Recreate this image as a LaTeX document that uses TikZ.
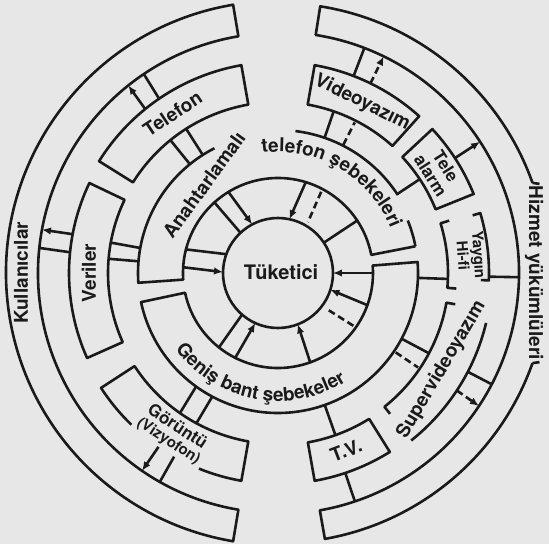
\documentclass[tikz,border=0pt]{standalone}
\usepackage{fontspec}
\setmainfont{TeX Gyre Heros}
\usetikzlibrary{arrows.meta,decorations.text}
\definecolor{bg}{RGB}{231,231,231}
\definecolor{ink}{RGB}{26,26,26}
% radial connector: [style]{angle1}{r1}{angle2}{r2}
\newcommand\rl[5][ln]{\path (#2:#3) coordinate (rlA) (#4:#5) coordinate (rlB); \draw[#1] (rlA) -- (rlB);}
% closed annular sector: {r1}{r2}{a1}{a2}
\newcommand\sect[4]{\draw[ln] (#3:#1) arc[start angle=#3,end angle=#4,radius=#1] -- (#4:#2) arc[start angle=#4,end angle=#3,radius=#2] -- cycle;}
\begin{document}
\begin{tikzpicture}[x=1pt,y=1pt,
  ln/.style={line width=2.6pt,draw=ink,line join=round},
  arr/.style={ln,-{Latex[length=9pt,width=7.5pt]}},
  dsh/.style={ln,dash pattern=on 7pt off 4pt},
  darr/.style={dsh,-{Latex[length=9pt,width=7.5pt]}},
  lbl/.style={font=\fontsize{19}{20}\selectfont\bfseries,text=ink,inner sep=0pt,align=center},
  mlbl/.style={lbl,font=\fontsize{17}{18}\selectfont\bfseries},
  slbl/.style={lbl,font=\fontsize{15}{16}\selectfont\bfseries},
]
\fill[bg] (-278,-271) rectangle (271,273);
\useasboundingbox (-278,-271) rectangle (271,273);

% ---------- centre ----------
\draw[ln] (0,0) circle[radius=55];
\node[lbl,font=\fontsize{20}{21}\selectfont\bfseries] (tuk) at (3,1) {Tüketici};

% ---------- inner ring (r 55..95) ----------
\rl{132}{96}{133}{55}
\rl[arr]{121.5}{96}{118}{55}
\rl[arr]{73}{95}{78}{55}
\rl[dsh]{62}{92}{59.5}{59}
\rl{33.5}{96}{33.5}{55}
\rl{165.7}{96}{160}{55}
\rl[arr]{176.5}{96}{179}{55}
\rl[arr]{0}{96}{0}{55}
\rl[arr]{-19.8}{96}{-17.8}{55}
\rl[dsh]{-35}{92}{-36.5}{60}
\rl[arr]{-70.2}{96}{-68.9}{55}
\rl[arr]{243.2}{96}{245.6}{55}
\rl{231.6}{96}{229.2}{55}

% ---------- network bands (r 95..140) ----------
% upper: Anahtarlamali telefon sebekeleri
\draw[ln] (11:140) -- (11:95) arc[start angle=11,end angle=184,radius=95] -- (184:140) arc[start angle=184,end angle=117,radius=140];
\draw[ln] (11:140) arc[start angle=11,end angle=22,radius=140];
\draw[ln] (33:143) arc[start angle=33,end angle=83,radius=143];
% lower: Genis bant sebekeler
\draw[ln] (192:95) arc[start angle=192,end angle=364.5,radius=95] -- (364.5:140) arc[start angle=364.5,end angle=192,radius=140] -- cycle;

\node[lbl,rotate=54] (anah) at (-74,88) {Anahtarlamalı};
\path[decorate,decoration={text along path,text align=center,
  text={|\fontsize{19}{20}\selectfont\bfseries\color{ink}|telefon şebekeleri}}]
  (98:121) arc[start angle=98,end angle=21,radius=121];
\path[decorate,decoration={text along path,text align=center,
  text={|\fontsize{19}{20}\selectfont\bfseries\color{ink}|Geniş bant şebekeler}}]
  (210:128) arc[start angle=210,end angle=309,radius=128];

% ---------- service boxes (r 171..211) ----------
\sect{171}{211}{100}{148}
\sect{170}{209}{154.5}{204}
\sect{171}{211}{48}{80}
\sect{170}{211}{22}{43}
\sect{172}{211}{-80}{-58}
% Goruntu (outer edge interrupted)
\draw[ln] (226:211) arc[start angle=226,end angle=213,radius=211] -- (213:171) arc[start angle=213,end angle=260,radius=171] -- (260:211) arc[start angle=260,end angle=248,radius=211];
% Yaygin Hi-fi brackets
\draw[ln] (17:179) -- (17:170) arc[start angle=17,end angle=-5,radius=170] -- (-5:179);
\draw[ln] (16.5:203) -- (16.5:211) arc[start angle=16.5,end angle=-2,radius=211] -- (-2:203);
% Supervideoyazim
\draw[ln] (-10:180) -- (-10:171) arc[start angle=-10,end angle=-51.5,radius=171] -- (-51.5:180);
\draw[ln] (-13.5:214) arc[start angle=-13.5,end angle=-51.5,radius=214];

\node[lbl,rotate=33.5] (tel) at (123.5:191) {Telefon};
\node[lbl,rotate=90] (ver) at (180:189) {Veriler};
\node[lbl,rotate=-26.3] (vid) at (63.7:190) {Videoyazım};
\node[mlbl,rotate=-57.5] (tal) at (32.5:190) {Tele\\alarm};
\node[slbl,rotate=-86] (hifi) at (5.3:194) {Yaygın\\Hi-fi};
\node[lbl,rotate=59.4] (svid) at (-30.6:190) {Supervideoyazım};
\node[lbl,rotate=21] (tv) at (-69:190) {T.V.};
\node[mlbl,rotate=-33.2] (gor) at (236.8:183) {Görüntü};
\node[slbl,rotate=-33] (viz) at (237:201) {(Vizyofon)};

% ---------- connectors band -> boxes (r 140..171) ----------
\rl{122.5}{140}{122.5}{171}
\rl{129}{140}{129}{171}
\rl{169.7}{140}{169.7}{170}
\rl{175.2}{140}{175.2}{170}
\rl{234.2}{140}{235}{171}
\rl{242}{140}{241.5}{171}
\rl{-70.5}{140}{-70.5}{172}
\rl{-28}{140}{-28}{171}
\rl[dsh]{-34}{142}{-34}{169}
\rl{-2}{140}{-2}{170}
\rl{33.5}{143}{33.5}{170}
\rl{71}{143}{71}{171}
\rl[dsh]{63}{144}{63}{169}

% ---------- connectors boxes -> users / providers (r 211..240) ----------
\rl[arr]{129}{211}{128.6}{240}
\rl{124.3}{211}{124}{240}
\rl[arr]{169.3}{209}{169.6}{240}
\rl{174.3}{209}{174}{240}
\rl[arr]{235.5}{211}{235.5}{240}
\rl{240.5}{211}{240.5}{240}
\rl{-71.4}{211}{-71.4}{241}
\rl{-27.5}{214}{-27.5}{241}
\rl[darr]{-33.3}{214}{-33.5}{241}
\rl{-1}{211}{-1}{241}
\rl[arr]{33}{211}{33}{241}
\rl{69}{211}{69}{241}
\rl[darr]{64}{211}{64}{241}

% ---------- outer bands ----------
\draw[ln] (99.5:272) arc[start angle=99.5,end angle=260.5,radius=272] -- (260.5:240) arc[start angle=260.5,end angle=99.5,radius=240] -- cycle;
\draw[ln] (19.5:270) arc[start angle=19.5,end angle=81,radius=270] -- (81:241) arc[start angle=81,end angle=-80,radius=241] -- (-80:270) arc[start angle=-80,end angle=-19.5,radius=270];
\path (19.5:270) coordinate (hzT) (-19.5:270) coordinate (hzB);
\draw[ln] (hzT) -- ++(7,-1);
\draw[ln] (hzB) -- ++(7,1);
\node[lbl,rotate=90] (kul) at (-257,0) {Kullanıcılar};
\node[lbl,rotate=-90] (hiz) at (256,0) {Hizmet yükümlüleri};
\end{tikzpicture}
\end{document}
